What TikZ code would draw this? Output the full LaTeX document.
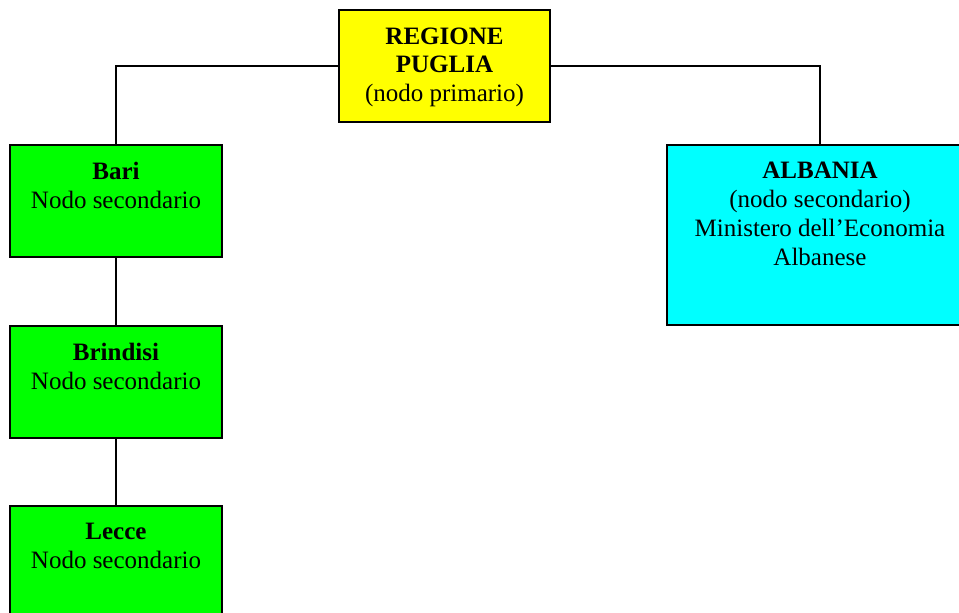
\documentclass[tikz,border=0pt]{standalone}
\usepackage{fontspec}
\setmainfont{Liberation Serif}
\usetikzlibrary{positioning}
\definecolor{giallo}{RGB}{255,255,0}
\definecolor{verde}{RGB}{0,255,0}
\definecolor{ciano}{RGB}{0,255,255}
\tikzset{
  box/.style={draw, line width=1.5pt, minimum width=212pt, minimum height=112pt, inner sep=0pt},
  lbl/.style={align=center, inner sep=0pt, font=\fontsize{25}{28.7}\selectfont},
  link/.style={line width=1.2pt}
}
\begin{document}
\begin{tikzpicture}[x=1pt, y=-1pt]
\useasboundingbox (0,0) rectangle (959,613);
% nodo primario
\node[box, fill=giallo, minimum width=211pt] (puglia) at (444.5,66) {};
\node[lbl, below=18pt of puglia.north] (puglia-t) {\textbf{REGIONE}\\\textbf{PUGLIA}\\(nodo primario)};
% nodi secondari
\node[box, fill=verde] (bari) at (116,201) {};
\node[lbl, below=18pt of bari.north] (bari-t) {\textbf{Bari}\\Nodo secondario};
\node[box, fill=verde] (brindisi) at (116,382) {};
\node[lbl, below=18pt of brindisi.north] (brindisi-t) {\textbf{Brindisi}\\Nodo secondario};
\node[box, fill=verde] (lecce) at (116,562) {};
\node[lbl, below=18pt of lecce.north] (lecce-t) {\textbf{Lecce}\\Nodo secondario};
\node[box, fill=ciano, minimum width=306pt, minimum height=180pt] (albania) at (820,235) {};
\node[lbl, below=18pt of albania.north] (albania-t) {\textbf{ALBANIA}\\(nodo secondario)\\Ministero dell’Economia\\Albanese};
% collegamenti
\draw[link] (puglia.west) -| (bari.north);
\draw[link] (puglia.east) -| (albania.north);
\draw[link] (bari.south) -- (brindisi.north);
\draw[link] (brindisi.south) -- (lecce.north);
\end{tikzpicture}
\end{document}
